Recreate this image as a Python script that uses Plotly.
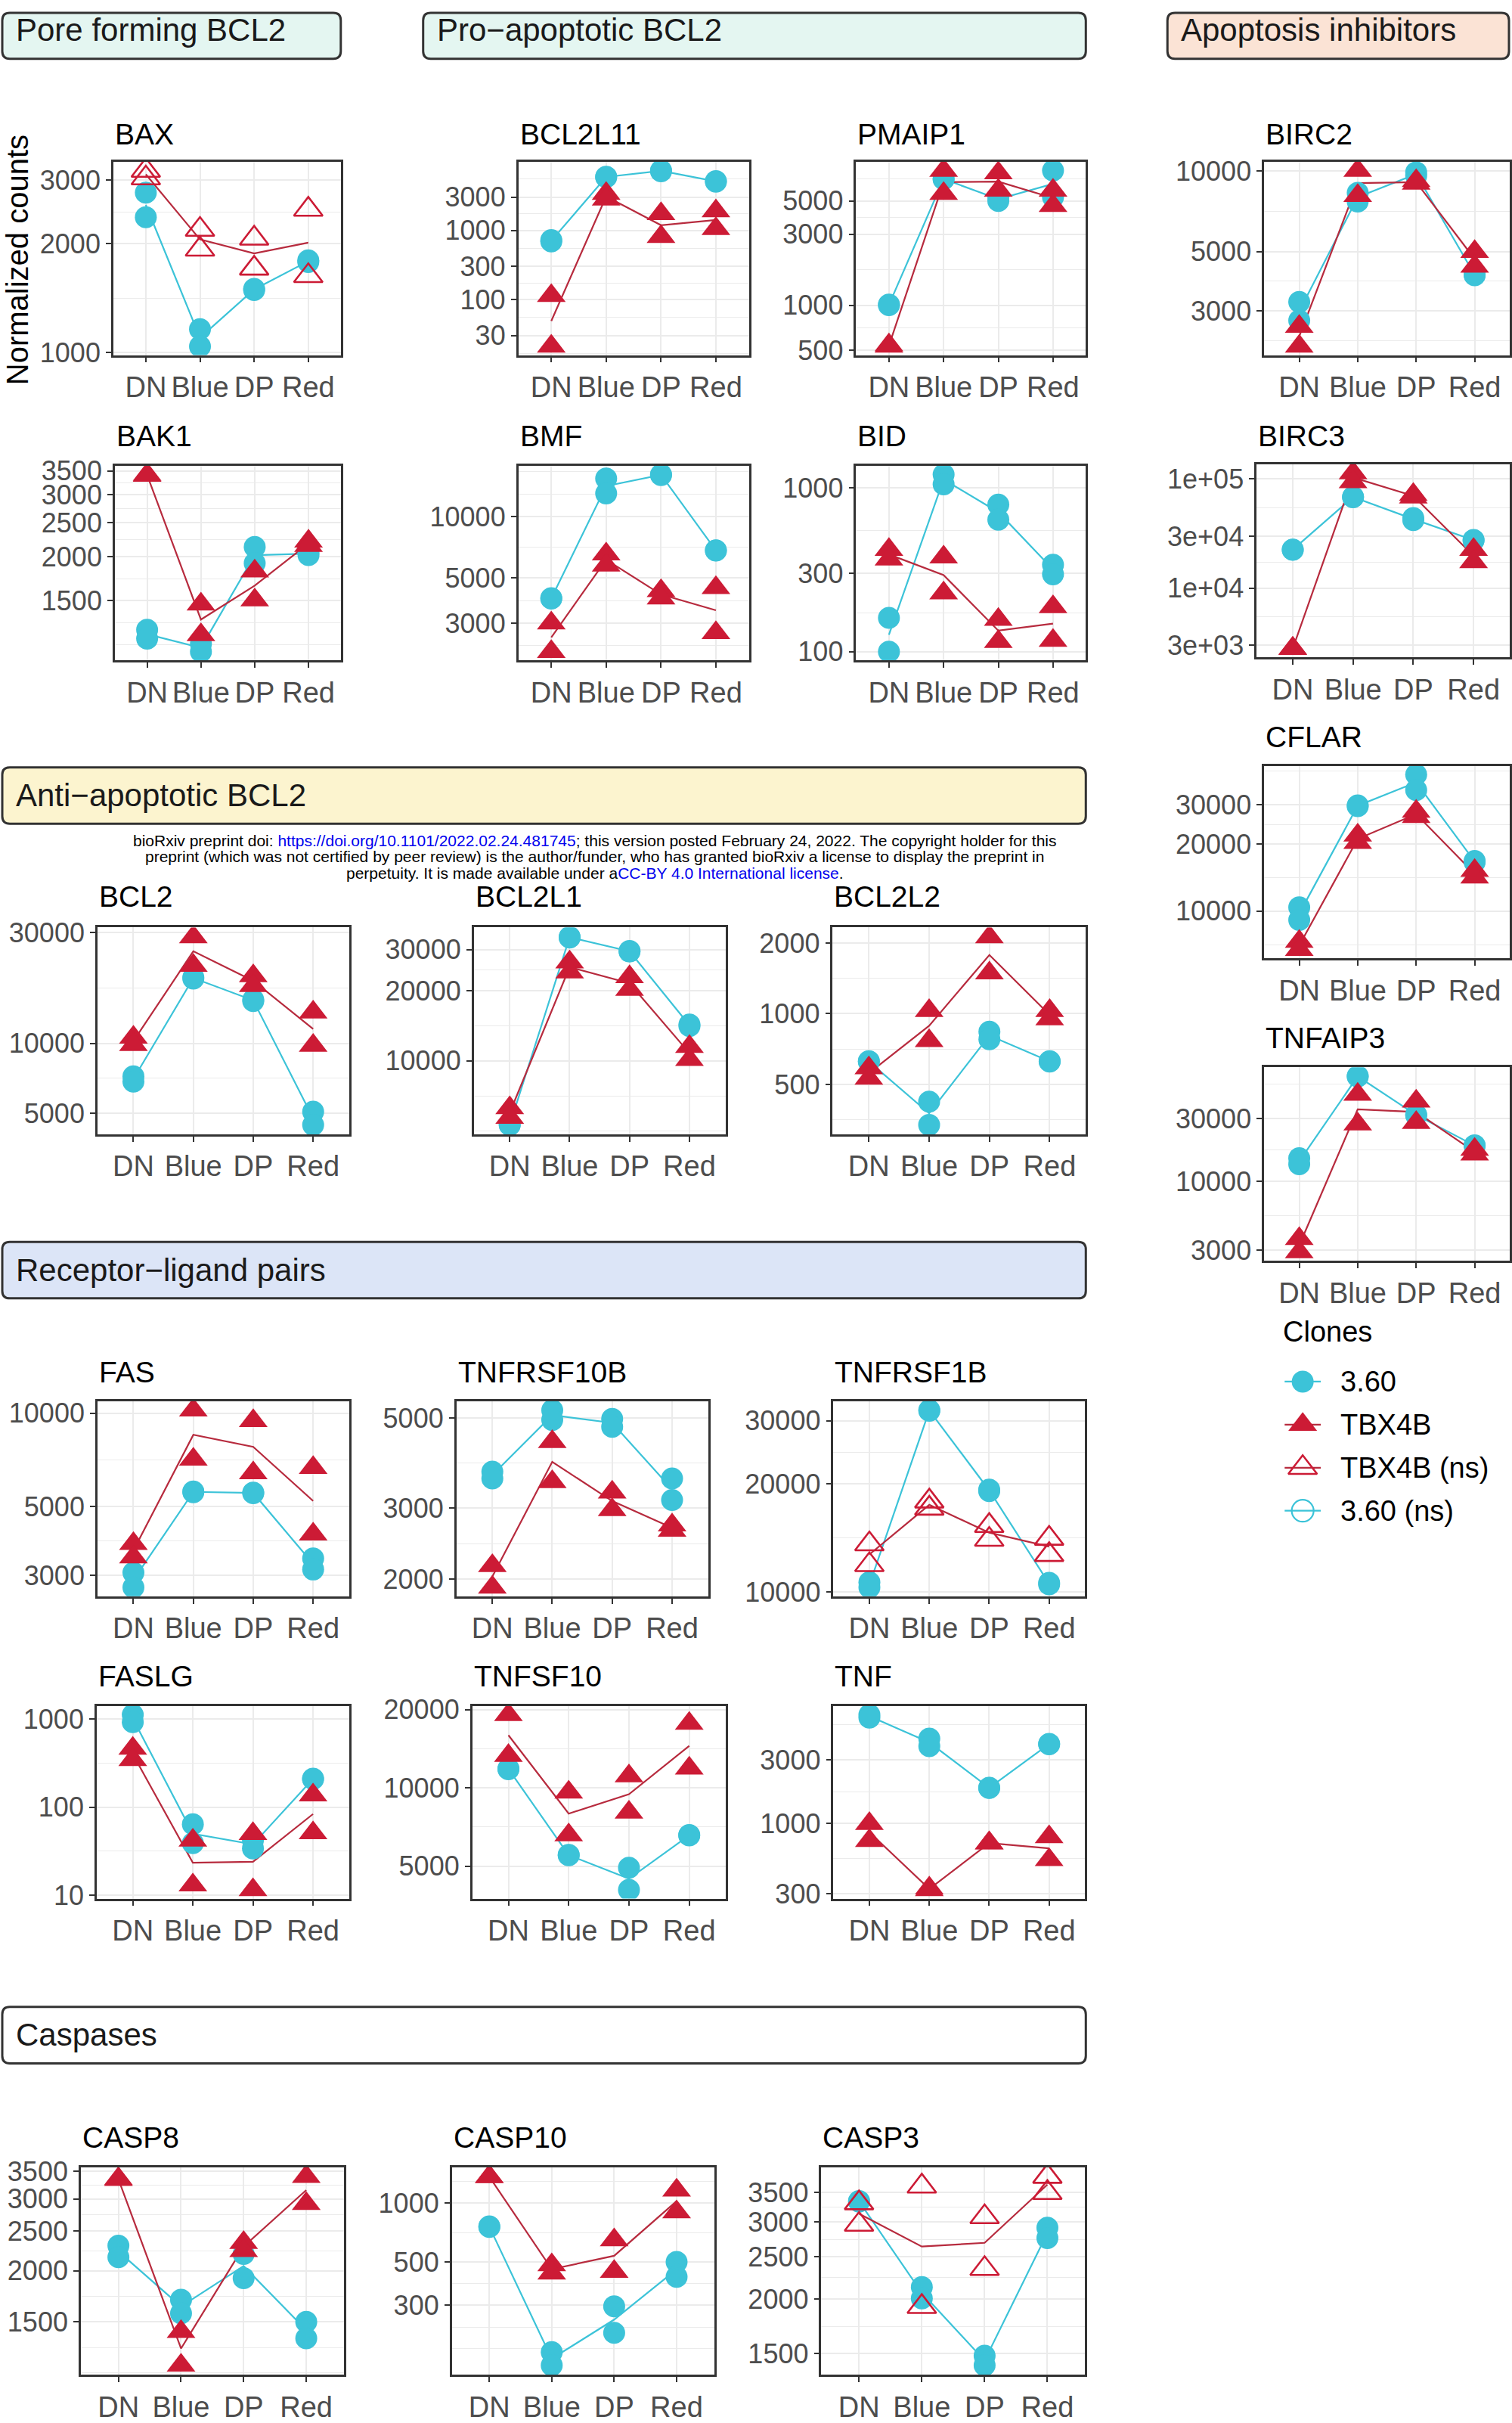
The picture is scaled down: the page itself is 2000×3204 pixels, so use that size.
import numpy as np
import plotly.graph_objects as go

W, H = 2000, 3204
FONT = "Liberation Sans, Arial, Helvetica, sans-serif"

STAGES = ["DN", "Blue", "DP", "Red"]
CLONES = ["3.60", "TBX4B", "TBX4B (ns)", "3.60 (ns)"]

# Normalized counts: two replicates per stage, stages in STAGES order
BAX_360 = [[2770, 2370], [1160, 1040], [1490, 1500], [1800, 1780]]
BAX_TBX4B = [[3190, 3040], [2190, 1930], [2070, 1710], [2490, 1630]]
BAX_TICKS = [1000, 2000, 3000]

BCL2L11_360 = [[720, 690], [5950, 5850], [7300, 7150], [5150, 5050]]
BCL2L11_TBX4B = [[113, 21], [3400, 2800], [1730, 810], [1900, 1050]]
BCL2L11_TICKS = [30, 100, 300, 1000, 3000]

PMAIP1_360 = [[1010, 1000], [7000, 7050], [5000, 5300], [8000, 5300]]
PMAIP1_TBX4B = [[540, 530], [8000, 5600], [7700, 5900], [5900, 4650]]
PMAIP1_TICKS = [500, 1000, 3000, 5000]

BIRC2_360 = [[3240, 2760], [7700, 8300], [9900, 9600], [4080, 4100]]
BIRC2_TBX4B = [[2620, 2210], [10050, 8100], [9200, 9000], [5000, 4400]]
BIRC2_TICKS = [3000, 5000, 10000]

BAK1_360 = [[1240, 1170], [1130, 1075], [2130, 1915], [2020, 2060]]
BAK1_TBX4B = [[3420, 3400], [1465, 1200], [1820, 1505], [2210, 2150]]
BAK1_TICKS = [1500, 2000, 2500, 3000, 3500]

BMF_360 = [[3980, 3960], [15400, 13000], [16100, 16000], [6840, 6820]]
BMF_TBX4B = [[3000, 2175], [6550, 5770], [4330, 3980], [4480, 2690]]
BMF_TICKS = [3000, 5000, 10000]

BID_360 = [[161, 100], [1210, 1054], [792, 641], [340, 297]]
BID_TBX4B = [[421, 367], [378, 228], [157, 115], [188, 117]]
BID_TICKS = [100, 300, 1000]

BIRC3_360 = [[22600, 22500], [68500, 68000], [44000, 42000], [27700, 27500]]
BIRC3_TBX4B = [[2820, 2800], [113500, 94000], [72000, 68000], [22600, 17400]]
BIRC3_TICKS = [3000, 10000, 30000, 100000]
BIRC3_LABELS = ["3e+03", "1e+04", "3e+04", "1e+05"]

BCL2_360 = [[7210, 6840], [19200, 19000], [15400, 15200], [5080, 4450]]
BCL2_TBX4B = [[10600, 9860], [28700, 21600], [19500, 17700], [13600, 9780]]
BCL2_TICKS = [5000, 10000, 30000]

BCL2L1_360 = [[5310, 5300], [34000, 33800], [29600, 29400], [14300, 14100]]
BCL2L1_TBX4B = [[6270, 5700], [26500, 24000], [22900, 20200], [11500, 10100]]
BCL2L1_TICKS = [10000, 20000, 30000]

BCL2L2_360 = [[628, 625], [422, 336], [838, 778], [628, 626]]
BCL2L2_TBX4B = [[587, 530], [1030, 767], [2123, 1490], [1030, 950]]
BCL2L2_TICKS = [500, 1000, 2000]

CFLAR_360 = [[10400, 9130], [29800, 29600], [41000, 34900], [16800, 16600]]
CFLAR_TBX4B = [[7310, 6720], [21900, 20300], [28000, 26500], [15200, 14200]]
CFLAR_TICKS = [10000, 20000, 30000]

TNFAIP3_360 = [[15000, 13500], [62800, 62500], [32100, 31800], [18800, 18600]]
TNFAIP3_TBX4B = [[3680, 2920], [45700, 27200], [40500, 27900], [17500, 16100]]
TNFAIP3_TICKS = [3000, 10000, 30000]

FAS_360 = [[3060, 2740], [5590, 5560], [5540, 5520], [3400, 3130]]
FAS_TBX4B = [[3790, 3430], [10230, 7100], [9460, 6420], [6670, 4070]]
FAS_TICKS = [3000, 5000, 10000]

TNFRSF10B_360 = [[3690, 3550], [5230, 4950], [4980, 4760], [3550, 3140]]
TNFRSF10B_TBX4B = [[2160, 1910], [4370, 3480], [3280, 2970], [2720, 2640]]
TNFRSF10B_TICKS = [2000, 3000, 5000]

TNFRSF1B_360 = [[10650, 10300], [32100, 32000], [19300, 19100], [10600, 10500]]
TNFRSF1B_TBX4B = [[13600, 11900], [17900, 17100], [15300, 14000], [14100, 12700]]
TNFRSF1B_TICKS = [10000, 20000, 30000]

FASLG_360 = [[1120, 925], [64, 39], [42, 34], [211, 209]]
FASLG_TBX4B = [[464, 345], [42, 13], [50, 11.5], [137, 51]]
FASLG_TICKS = [10, 100, 1000]

TNFSF10_360 = [[11850, 11800], [5520, 5500], [4930, 4050], [6580, 6560]]
TNFSF10_TBX4B = [[19100, 13300], [9620, 6580], [11100, 8050], [17700, 11900]]
TNFSF10_TICKS = [5000, 10000, 20000]

TNF_360 = [[6500, 6200], [4310, 3790], [1855, 1850], [3940, 3920]]
TNF_TBX4B = [[1000, 746], [330, 320], [718, 715], [795, 537]]
TNF_TICKS = [300, 1000, 3000]

CASP8_360 = [[2305, 2160], [1700, 1575], [1920, 2200], [1500, 1368]]
CASP8_TBX4B = [[3360, 3340], [1420, 1175], [2345, 2240], [3400, 2920]]
CASP8_TICKS = [1500, 2000, 2500, 3000, 3500]

CASP10_360 = [[759, 755], [173, 148], [296, 217], [500, 419]]
CASP10_TBX4B = [[1365, 1360], [482, 437], [647, 446], [1163, 899]]
CASP10_TICKS = [300, 500, 1000]

CASP3_360 = [[3350, 3340], [2130, 2005], [1483, 1410], [2910, 2755]]
CASP3_TBX4B = [[3315, 2960], [3620, 1920], [3080, 2345], [3810, 3500]]
CASP3_TICKS = [1500, 2000, 2500, 3000, 3500]

# gene, 3.60 values, TBX4B values, TBX4B significant, y ticks, y tick labels
PANELS = [
    ("BAX", BAX_360, BAX_TBX4B, False, BAX_TICKS, None),
    ("BCL2L11", BCL2L11_360, BCL2L11_TBX4B, True, BCL2L11_TICKS, None),
    ("PMAIP1", PMAIP1_360, PMAIP1_TBX4B, True, PMAIP1_TICKS, None),
    ("BIRC2", BIRC2_360, BIRC2_TBX4B, True, BIRC2_TICKS, None),
    ("BAK1", BAK1_360, BAK1_TBX4B, True, BAK1_TICKS, None),
    ("BMF", BMF_360, BMF_TBX4B, True, BMF_TICKS, None),
    ("BID", BID_360, BID_TBX4B, True, BID_TICKS, None),
    ("BIRC3", BIRC3_360, BIRC3_TBX4B, True, BIRC3_TICKS, BIRC3_LABELS),
    ("BCL2", BCL2_360, BCL2_TBX4B, True, BCL2_TICKS, None),
    ("BCL2L1", BCL2L1_360, BCL2L1_TBX4B, True, BCL2L1_TICKS, None),
    ("BCL2L2", BCL2L2_360, BCL2L2_TBX4B, True, BCL2L2_TICKS, None),
    ("CFLAR", CFLAR_360, CFLAR_TBX4B, True, CFLAR_TICKS, None),
    ("TNFAIP3", TNFAIP3_360, TNFAIP3_TBX4B, True, TNFAIP3_TICKS, None),
    ("FAS", FAS_360, FAS_TBX4B, True, FAS_TICKS, None),
    ("TNFRSF10B", TNFRSF10B_360, TNFRSF10B_TBX4B, True, TNFRSF10B_TICKS, None),
    ("TNFRSF1B", TNFRSF1B_360, TNFRSF1B_TBX4B, False, TNFRSF1B_TICKS, None),
    ("FASLG", FASLG_360, FASLG_TBX4B, True, FASLG_TICKS, None),
    ("TNFSF10", TNFSF10_360, TNFSF10_TBX4B, True, TNFSF10_TICKS, None),
    ("TNF", TNF_360, TNF_TBX4B, True, TNF_TICKS, None),
    ("CASP8", CASP8_360, CASP8_TBX4B, True, CASP8_TICKS, None),
    ("CASP10", CASP10_360, CASP10_TBX4B, True, CASP10_TICKS, None),
    ("CASP3", CASP3_360, CASP3_TBX4B, False, CASP3_TICKS, None),
]

# panel boxes in pixels: left, right, top, bottom
BOX = {
    "BAX": (150, 451, 213, 470), "BCL2L11": (686, 991, 213, 470),
    "PMAIP1": (1133, 1437, 213, 470), "BIRC2": (1673, 1998, 213, 470),
    "BAK1": (152, 451, 617, 876), "BMF": (686, 991, 617, 876),
    "BID": (1133, 1437, 617, 876), "BIRC3": (1663, 1998, 615, 872),
    "BCL2": (129, 462, 1231, 1506), "BCL2L1": (627, 960, 1231, 1506),
    "BCL2L2": (1102, 1437, 1231, 1506),
    "CFLAR": (1673, 1998, 1016, 1272), "TNFAIP3": (1673, 1998, 1417, 1674),
    "FAS": (129, 462, 1861, 2120), "TNFRSF10B": (604, 937, 1861, 2120),
    "TNFRSF1B": (1103, 1436, 1861, 2120),
    "FASLG": (128, 462, 2266, 2522), "TNFSF10": (625, 960, 2266, 2522),
    "TNF": (1103, 1436, 2266, 2522),
    "CASP8": (107, 455, 2879, 3155), "CASP10": (598, 945, 2879, 3155),
    "CASP3": (1087, 1436, 2879, 3155),
}
TITLE_Y = {
    "BAX": 176, "BCL2L11": 176, "PMAIP1": 176, "BIRC2": 176,
    "BAK1": 578, "BMF": 578, "BID": 578, "BIRC3": 578,
    "BCL2": 1190, "BCL2L1": 1190, "BCL2L2": 1190,
    "CFLAR": 978, "TNFAIP3": 1378,
    "FAS": 1822, "TNFRSF10B": 1822, "TNFRSF1B": 1822,
    "FASLG": 2226, "TNFSF10": 2226, "TNF": 2226,
    "CASP8": 2840, "CASP10": 2840, "CASP3": 2840,
}

# strip label, box (x0, x1, y0, y1), text centre y, fill
HEADERS = [
    ("Pore forming BCL2", (3, 451, 15, 76), 38, "#E4F6F1"),
    ("Pro\u2212apoptotic BCL2", (560, 1437, 15, 76), 38, "#E4F6F1"),
    ("Apoptosis inhibitors", (1545, 1997, 15, 76), 38, "#FBE3D5"),
    ("Anti\u2212apoptotic BCL2", (3, 1437, 1018, 1093), 1055, "#FCF4CF"),
    ("Receptor\u2212ligand pairs", (3, 1437, 1649, 1724), 1686, "#DCE5F7"),
    ("Caspases", (3, 1437, 2666, 2741), 2703, "#FFFFFF"),
]

CYAN = "#3CC3D8"
RED = "#CC1B35"
RED_LINE = "#B72B3E"
GRID = "#EBEBEB"
BORDER = "#333333"
TICK_TXT = "#4D4D4D"

# vertical placement: page offset and scale of the rendered figure
Y_OFFSET = 14.0
Y_SCALE = 0.99


def px(x):
    return x / W


def py(y):
    return 1 - ((y - Y_OFFSET) / Y_SCALE) / H


def geo_mean(pairs):
    return [float(10 ** np.mean(np.log10(p))) for p in pairs]


def minor_breaks(major, lo, hi):
    b = [np.log10(v) for v in major if lo <= np.log10(v) <= hi]
    bd = b[1] - b[0]
    if lo < b[0]:
        b = [b[0] - bd] + b
    if hi > b[-1]:
        b = b + [b[-1] + bd]
    out = []
    for a, c in zip(b[:-1], b[1:]):
        out += [a, (a + c) / 2]
    out.append(b[-1])
    majors = [np.log10(v) for v in major]
    return [float(10 ** v) for v in out
            if lo <= v <= hi and min(abs(v - m) for m in majors) > 1e-6]


def rounded_rect(x0, y0, x1, y1, r=10):
    def P(x, y):
        return f"{px(x):.6f},{py(y):.6f}"
    return ("M " + P(x0 + r, y0) + " L " + P(x1 - r, y0) + " Q " + P(x1, y0) + " " + P(x1, y0 + r)
            + " L " + P(x1, y1 - r) + " Q " + P(x1, y1) + " " + P(x1 - r, y1)
            + " L " + P(x0 + r, y1) + " Q " + P(x0, y1) + " " + P(x0, y1 - r)
            + " L " + P(x0, y0 + r) + " Q " + P(x0, y0) + " " + P(x0 + r, y0) + " Z")


fig = go.Figure()
layout = dict(
    width=W, height=H, margin=dict(l=0, r=0, t=0, b=0),
    paper_bgcolor="white", plot_bgcolor="white", showlegend=False,
    font=dict(family=FONT, size=38, color=TICK_TXT), hovermode=False,
)
annotations = []
shapes = []

for i, (gene, v360, vtbx, tbx_sig, ticks, labels) in enumerate(PANELS, start=1):
    l, r, t, b = BOX[gene]
    sfx = "" if i == 1 else str(i)
    xa, ya = "x" + sfx, "y" + sfx

    logs = np.log10([v for pair in v360 + vtbx for v in pair])
    lo, hi = logs.min(), logs.max()
    pad = 0.05 * (hi - lo)
    yr = [lo - pad, hi + pad]

    # group means (log scale) joined by lines
    fig.add_trace(go.Scatter(x=STAGES, y=geo_mean(v360), mode="lines",
                             line=dict(color=CYAN, width=2.2), xaxis=xa, yaxis=ya))
    fig.add_trace(go.Scatter(x=STAGES, y=geo_mean(vtbx), mode="lines",
                             line=dict(color=RED_LINE, width=2.2), xaxis=xa, yaxis=ya))
    # replicate points
    fig.add_trace(go.Scatter(
        x=[s for s in STAGES for _ in range(2)], y=[v for p in v360 for v in p],
        mode="markers", marker=dict(symbol="circle", size=29, color=CYAN, line=dict(width=0)),
        xaxis=xa, yaxis=ya))
    fig.add_trace(go.Scatter(
        x=[s for s in STAGES for _ in range(2)], y=[v for p in vtbx for v in p],
        mode="markers",
        marker=dict(symbol="triangle-up" if tbx_sig else "triangle-up-open", size=33,
                    color=RED, line=dict(width=0 if tbx_sig else 2.6, color=RED)),
        xaxis=xa, yaxis=ya))

    layout["xaxis" + sfx] = dict(
        domain=[px(l), px(r)], anchor=ya, type="category",
        categoryorder="array", categoryarray=STAGES, range=[-0.6, 3.6],
        showline=True, mirror=True, linecolor=BORDER, linewidth=2.6,
        ticks="outside", ticklen=7, tickwidth=2.2, tickcolor=BORDER, tickangle=0,
        tickfont=dict(family=FONT, size=38, color=TICK_TXT),
        showgrid=True, gridcolor=GRID, gridwidth=2.2, zeroline=False, fixedrange=True,
    )
    layout["yaxis" + sfx] = dict(
        domain=[py(b), py(t)], anchor=xa, type="log", range=yr,
        tickmode="array", tickvals=ticks,
        ticktext=labels if labels else [str(v) for v in ticks],
        showline=True, mirror=True, linecolor=BORDER, linewidth=2.6,
        ticks="outside", ticklen=7, tickwidth=2.2, tickcolor=BORDER,
        tickfont=dict(family=FONT, size=36, color=TICK_TXT),
        showgrid=True, gridcolor=GRID, gridwidth=2.2, zeroline=False, fixedrange=True,
        minor=dict(tickmode="array", tickvals=minor_breaks(ticks, *yr),
                   showgrid=True, gridcolor=GRID, gridwidth=1.1, ticks=""),
    )
    annotations.append(dict(
        text=gene, x=px(l), y=py(TITLE_Y[gene]), xref="paper", yref="paper",
        xanchor="left", yanchor="middle", showarrow=False,
        font=dict(family=FONT, size=39, color="black")))

# legend drawn on its own hidden axis
n = len(PANELS) + 1
LEG = dict(l=1700, r=1748, t=1806, b=2035)
layout[f"xaxis{n}"] = dict(domain=[px(LEG["l"]), px(LEG["r"])], anchor=f"y{n}",
                           range=[0, 1], visible=False, fixedrange=True)
layout[f"yaxis{n}"] = dict(domain=[py(LEG["b"]), py(LEG["t"])], anchor=f"x{n}",
                           range=[len(CLONES) - 0.5, -0.5], visible=False, fixedrange=True)
key_style = {
    "3.60": ("circle", CYAN, 29, 0),
    "TBX4B": ("triangle-up", RED, 33, 0),
    "TBX4B (ns)": ("triangle-up-open", RED, 33, 2.6),
    "3.60 (ns)": ("circle-open", CYAN, 29, 2.2),
}
for k, name in enumerate(CLONES):
    sym, col, size, lw = key_style[name]
    lcol = RED_LINE if col == RED else CYAN
    fig.add_trace(go.Scatter(x=[0, 1], y=[k, k], mode="lines", line=dict(color=lcol, width=2.2),
                             xaxis=f"x{n}", yaxis=f"y{n}"))
    fig.add_trace(go.Scatter(x=[0.5], y=[k], mode="markers",
                             marker=dict(symbol=sym, size=size, color=col, line=dict(width=lw, color=col)),
                             xaxis=f"x{n}", yaxis=f"y{n}"))
    yc = LEG["t"] + (k + 0.5) * (LEG["b"] - LEG["t"]) / len(CLONES)
    annotations.append(dict(text=name, x=px(1772), y=py(yc), xref="paper", yref="paper",
                            xanchor="left", yanchor="middle", showarrow=False,
                            font=dict(family=FONT, size=38, color="black")))
annotations.append(dict(text="Clones", x=px(1696), y=py(1768), xref="paper", yref="paper",
                        xanchor="left", yanchor="middle", showarrow=False,
                        font=dict(family=FONT, size=38, color="black")))

# section strips
for label, (x0, x1, y0, y1), yc, fill in HEADERS:
    shapes.append(dict(type="path", path=rounded_rect(x0, y0, x1, y1), xref="paper", yref="paper",
                       fillcolor=fill, line=dict(color=BORDER, width=3)))
    annotations.append(dict(text=label, x=px(x0 + 16), y=py(yc), xref="paper", yref="paper",
                            xanchor="left", yanchor="middle", showarrow=False,
                            font=dict(family=FONT, size=42, color="#1A1A1A")))

# shared y-axis title
annotations.append(dict(text="Normalized counts", x=px(23), y=py(343), xref="paper", yref="paper",
                        xanchor="center", yanchor="middle", textangle=-90, showarrow=False,
                        font=dict(family=FONT, size=40, color="black")))

# preprint notice under the anti-apoptotic strip
NOTICE = [
    "bioRxiv preprint doi: <span style='color:#0000EE'>https://doi.org/10.1101/2022.02.24.481745</span>; "
    "this version posted February 24, 2022. The copyright holder for this",
    "preprint (which was not certified by peer review) is the author/funder, who has granted "
    "bioRxiv a license to display the preprint in",
    "perpetuity. It is made available under a<span style='color:#0000EE'>CC-BY 4.0 International license</span>.",
]
for k, line in enumerate(NOTICE):
    annotations.append(dict(text=line, x=px(787), y=py(1115 + 22 * k), xref="paper", yref="paper",
                            xanchor="center", yanchor="middle", showarrow=False,
                            font=dict(family=FONT, size=21, color="black")))

layout["annotations"] = annotations
layout["shapes"] = shapes
fig.update_layout(**layout)
fig.update_traces(hoverinfo="skip")
fig.write_html(
    "out.html",
    config={"displayModeBar": False},
    post_script="document.body.style.margin='0';document.body.style.padding='0';",
)
